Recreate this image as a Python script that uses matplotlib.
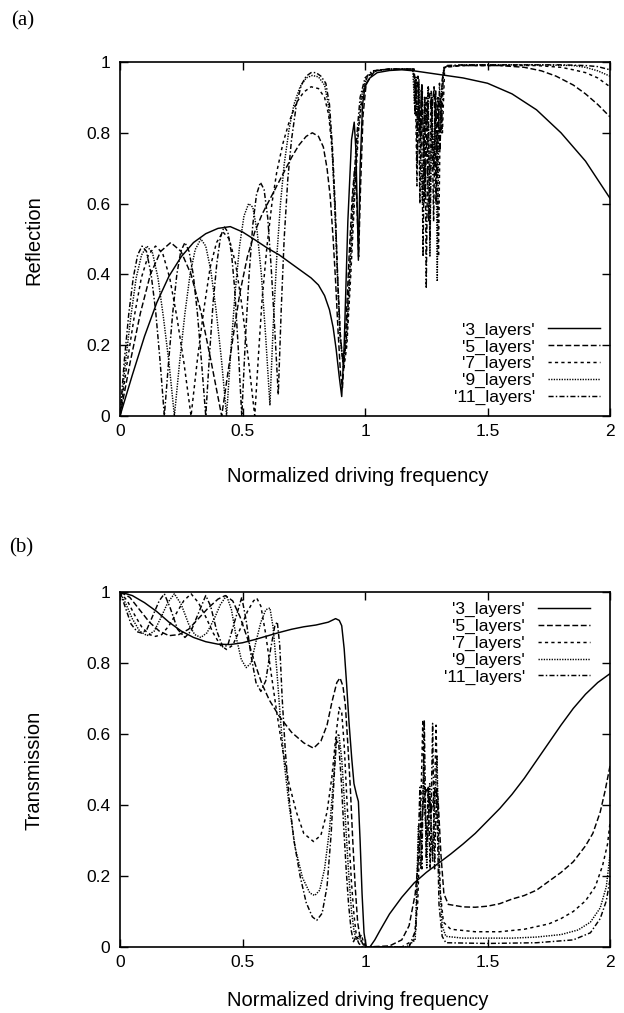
import matplotlib
matplotlib.use("Agg")
import matplotlib.pyplot as plt
from matplotlib.ticker import FixedLocator, FixedFormatter

# ---------------------------------------------------------------- data
labels = ["'3_layers'", "'5_layers'", "'7_layers'", "'9_layers'", "'11_layers'"]
x_ticks = [0, 0.5, 1, 1.5, 2]
x_tick_labels = ["0", "0.5", "1", "1.5", "2"]
y_ticks = [0, 0.2, 0.4, 0.6, 0.8, 1.0]
y_tick_labels = ["0", "0.2", "0.4", "0.6", "0.8", "1"]

# Reflection, 3 layers
r3_x = [0.0, 0.05, 0.1, 0.15, 0.2, 0.25, 0.3, 0.35, 0.4, 0.45, 0.5, 0.55, 0.6, 0.65,
        0.7, 0.75, 0.78, 0.81, 0.835, 0.855, 0.87, 0.882, 0.895, 0.905, 0.915, 0.93,
        0.945, 0.956, 0.963, 0.973, 0.98, 0.99, 1.0, 1.02, 1.05, 1.1, 1.15, 1.2,
        1.3, 1.4, 1.5, 1.6, 1.7, 1.8, 1.9, 2.0]
r3_y = [0.0, 0.115, 0.225, 0.32, 0.395, 0.45, 0.49, 0.515, 0.53, 0.535, 0.52, 0.498,
        0.475, 0.455, 0.43, 0.405, 0.39, 0.37, 0.34, 0.3, 0.25, 0.19, 0.11, 0.055,
        0.2, 0.55, 0.78, 0.83, 0.75, 0.44, 0.7, 0.88, 0.93, 0.955, 0.97, 0.976,
        0.978, 0.975, 0.965, 0.955, 0.94, 0.91, 0.865, 0.8, 0.72, 0.615]

# Reflection, 5 layers
r5_x = [0.0, 0.041, 0.083, 0.124, 0.166, 0.207, 0.249, 0.29, 0.332, 0.373, 0.415,
        0.44, 0.465, 0.49, 0.52, 0.55, 0.58, 0.61, 0.64, 0.67, 0.7, 0.73, 0.76,
        0.785, 0.81, 0.83, 0.845, 0.858, 0.87, 0.88, 0.89, 0.9, 0.908, 0.92, 0.935,
        0.948, 0.958, 0.966, 0.974, 0.982, 0.992, 1.005, 1.04, 1.1, 1.2, 1.208,
        1.216, 1.224, 1.232, 1.245, 1.258, 1.272, 1.282, 1.29, 1.298, 1.306, 1.315,
        1.325, 1.4, 1.55, 1.65, 1.72, 1.78, 1.85, 1.9, 1.95, 2.0]
r5_y = [0.0, 0.15, 0.29, 0.4, 0.465, 0.49, 0.465, 0.4, 0.29, 0.15, 0.0,
        0.12, 0.24, 0.35, 0.45, 0.52, 0.57, 0.61, 0.65, 0.69, 0.73, 0.765, 0.79,
        0.8, 0.79, 0.76, 0.7, 0.62, 0.5, 0.38, 0.24, 0.12, 0.08, 0.22, 0.45,
        0.62, 0.7, 0.62, 0.45, 0.65, 0.85, 0.94, 0.975, 0.98, 0.98, 0.9,
        0.96, 0.8, 0.94, 0.62, 0.93, 0.86, 0.93, 0.6, 0.9, 0.75, 0.95,
        0.988, 0.99, 0.99, 0.985, 0.975, 0.96, 0.935, 0.91, 0.88, 0.845]

# Reflection, 7 layers
r7_x = [0.0, 0.029, 0.058, 0.087, 0.116, 0.145, 0.174, 0.203, 0.232, 0.261, 0.29,
        0.316, 0.342, 0.368, 0.394, 0.42, 0.446, 0.472, 0.498, 0.524, 0.55,
        0.565, 0.58, 0.6, 0.62, 0.64, 0.665, 0.69, 0.72, 0.75, 0.78, 0.81, 0.835,
        0.852, 0.866, 0.878, 0.889, 0.9, 0.913, 0.926, 0.942, 0.958, 0.973, 0.99,
        1.01, 1.05, 1.1, 1.2, 1.206, 1.212, 1.218, 1.226, 1.234, 1.242, 1.25,
        1.26, 1.27, 1.28, 1.29, 1.3, 1.308, 1.316, 1.325, 1.4, 1.7, 1.8, 1.85,
        1.9, 1.95, 2.0]
r7_y = [0.0, 0.15, 0.28, 0.39, 0.455, 0.48, 0.46, 0.39, 0.28, 0.15, 0.0,
        0.16, 0.3, 0.42, 0.49, 0.52, 0.5, 0.43, 0.31, 0.16, 0.0,
        0.17, 0.33, 0.48, 0.6, 0.69, 0.77, 0.83, 0.885, 0.915, 0.93, 0.925, 0.9,
        0.85, 0.75, 0.58, 0.38, 0.22, 0.13, 0.2, 0.4, 0.62, 0.8, 0.91,
        0.96, 0.977, 0.98, 0.98, 0.92, 0.65, 0.94, 0.78, 0.92, 0.6, 0.9,
        0.55, 0.92, 0.7, 0.88, 0.45, 0.9, 0.8, 0.985, 0.99, 0.99, 0.985, 0.978,
        0.97, 0.955, 0.93]

# Reflection, 9 layers
r9_x = [0.0, 0.022, 0.044, 0.066, 0.088, 0.11, 0.133, 0.155, 0.177, 0.2, 0.222,
        0.243, 0.265, 0.286, 0.307, 0.33, 0.35, 0.371, 0.392, 0.414, 0.435,
        0.452, 0.47, 0.488, 0.506, 0.525, 0.542, 0.56, 0.577, 0.595, 0.612,
        0.625, 0.64, 0.655, 0.67, 0.69, 0.71, 0.735, 0.76, 0.785, 0.81, 0.835,
        0.85, 0.864, 0.876, 0.887, 0.898, 0.912, 0.925, 0.94, 0.955, 0.97, 0.985,
        1.005, 1.04, 1.1, 1.195, 1.202, 1.208, 1.214, 1.22, 1.228, 1.235, 1.243,
        1.25, 1.258, 1.265, 1.273, 1.28, 1.288, 1.295, 1.302, 1.31, 1.322, 1.4,
        1.7, 1.85, 1.9, 1.95, 2.0]
r9_y = [0.0, 0.15, 0.28, 0.39, 0.455, 0.48, 0.46, 0.39, 0.28, 0.15, 0.0,
        0.15, 0.29, 0.4, 0.47, 0.5, 0.48, 0.41, 0.3, 0.16, 0.0,
        0.18, 0.35, 0.48, 0.565, 0.6, 0.59, 0.52, 0.4, 0.22, 0.03,
        0.25, 0.45, 0.6, 0.71, 0.81, 0.88, 0.93, 0.955, 0.962, 0.958, 0.935,
        0.88, 0.78, 0.6, 0.4, 0.22, 0.14, 0.22, 0.42, 0.62, 0.79, 0.9,
        0.955, 0.975, 0.98, 0.98, 0.88, 0.96, 0.8, 0.95, 0.72, 0.6, 0.9,
        0.82, 0.93, 0.45, 0.9, 0.7, 0.92, 0.38, 0.88, 0.9, 0.985, 0.992,
        0.992, 0.99, 0.985, 0.975, 0.96]

# Reflection, 11 layers
r11_x = [0.0, 0.018, 0.036, 0.054, 0.072, 0.09, 0.108, 0.127, 0.145, 0.163, 0.181,
         0.198, 0.215, 0.232, 0.248, 0.265, 0.282, 0.299, 0.316, 0.333, 0.35,
         0.365, 0.38, 0.395, 0.41, 0.425, 0.44, 0.455, 0.468, 0.482, 0.497,
         0.512, 0.527, 0.542, 0.557, 0.573, 0.588, 0.603, 0.617, 0.632, 0.646,
         0.658, 0.67, 0.685, 0.7, 0.72, 0.74, 0.76, 0.78, 0.8, 0.82, 0.84, 0.855,
         0.867, 0.878, 0.888, 0.898, 0.91, 0.922, 0.935, 0.95, 0.965, 0.98, 1.0,
         1.03, 1.1, 1.195, 1.2, 1.204, 1.208, 1.213, 1.218, 1.224, 1.23, 1.237,
         1.244, 1.25, 1.258, 1.265, 1.272, 1.28, 1.288, 1.296, 1.304, 1.312,
         1.32, 1.33, 1.4, 1.6, 1.8, 1.9, 1.95, 2.0]
r11_y = [0.0, 0.16, 0.29, 0.39, 0.455, 0.48, 0.465, 0.4, 0.3, 0.16, 0.0,
         0.15, 0.29, 0.4, 0.465, 0.49, 0.465, 0.4, 0.29, 0.15, 0.0,
         0.17, 0.32, 0.43, 0.505, 0.535, 0.52, 0.46, 0.36, 0.2, 0.0,
         0.22, 0.4, 0.54, 0.625, 0.66, 0.64, 0.56, 0.42, 0.24, 0.06,
         0.3, 0.5, 0.67, 0.78, 0.88, 0.935, 0.96, 0.97, 0.97, 0.96, 0.94, 0.88,
         0.76, 0.6, 0.4, 0.24, 0.15, 0.2, 0.38, 0.6, 0.78, 0.9, 0.955,
         0.975, 0.98, 0.98, 0.96, 0.85, 0.95, 0.7, 0.94, 0.6, 0.92, 0.45,
         0.9, 0.36, 0.88, 0.5, 0.9, 0.55, 0.92, 0.68, 0.94, 0.8,
         0.97, 0.99, 0.992, 0.992, 0.992, 0.99, 0.987, 0.978]

# Transmission, 3 layers
t3_x = [0.0, 0.05, 0.1, 0.15, 0.2, 0.25, 0.3, 0.35, 0.4, 0.45, 0.5, 0.55, 0.6, 0.65,
        0.7, 0.75, 0.8, 0.85, 0.88, 0.895, 0.905, 0.915, 0.925, 0.935, 0.946,
        0.955, 0.965, 0.973, 0.98, 0.988, 0.996, 1.005, 1.02, 1.04, 1.06, 1.1,
        1.15, 1.2, 1.25, 1.3, 1.35, 1.4, 1.45, 1.5, 1.55, 1.6, 1.65, 1.7, 1.75,
        1.8, 1.85, 1.9, 1.95, 2.0]
t3_y = [1.0, 0.99, 0.97, 0.945, 0.915, 0.89, 0.872, 0.86, 0.853, 0.852, 0.857,
        0.866, 0.876, 0.886, 0.895, 0.902, 0.907, 0.915, 0.925, 0.92, 0.905,
        0.84, 0.74, 0.63, 0.53, 0.46, 0.43, 0.41, 0.3, 0.15, 0.04, 0.0, 0.0,
        0.02, 0.045, 0.093, 0.14, 0.18, 0.21, 0.236, 0.262, 0.29, 0.32,
        0.355, 0.39, 0.43, 0.475, 0.525, 0.575, 0.625, 0.672, 0.712, 0.745, 0.77]

# Transmission, 5 layers
t5_x = [0.0, 0.04, 0.08, 0.12, 0.16, 0.2, 0.24, 0.28, 0.32, 0.36, 0.4, 0.43, 0.46,
        0.49, 0.52, 0.55, 0.58, 0.61, 0.65, 0.7, 0.75, 0.79, 0.82, 0.845, 0.865,
        0.885, 0.898, 0.91, 0.92, 0.93, 0.94, 0.95, 0.96, 0.97, 0.98, 0.99, 1.0,
        1.1, 1.15, 1.18, 1.205, 1.225, 1.24, 1.255, 1.27, 1.285, 1.298, 1.31,
        1.322, 1.34, 1.4, 1.45, 1.5, 1.55, 1.6, 1.65, 1.7, 1.75, 1.8, 1.85, 1.9,
        1.93, 1.96, 1.98, 2.0]
t5_y = [1.0, 0.985, 0.95, 0.915, 0.89, 0.877, 0.88, 0.895, 0.925, 0.955, 0.98,
        0.99, 0.975, 0.93, 0.87, 0.8, 0.74, 0.695, 0.65, 0.605, 0.575, 0.56,
        0.58, 0.625, 0.69, 0.745, 0.758, 0.735, 0.68, 0.57, 0.45, 0.3, 0.17,
        0.07, 0.025, 0.01, 0.0, 0.003, 0.02, 0.06, 0.15, 0.3, 0.42, 0.45, 0.38,
        0.44, 0.42, 0.26, 0.15, 0.12, 0.113, 0.112, 0.115, 0.122, 0.135, 0.145,
        0.16, 0.185, 0.21, 0.24, 0.285, 0.32, 0.38, 0.44, 0.51]

# Transmission, 7 layers
t7_x = [0.0, 0.03, 0.06, 0.09, 0.12, 0.145, 0.17, 0.2, 0.23, 0.26, 0.29, 0.32, 0.35,
        0.38, 0.41, 0.435, 0.46, 0.49, 0.52, 0.545, 0.558, 0.575, 0.595, 0.615,
        0.64, 0.665, 0.69, 0.72, 0.75, 0.79, 0.82, 0.845, 0.865, 0.882, 0.895,
        0.905, 0.915, 0.925, 0.935, 0.945, 0.955, 0.965, 0.975, 0.985, 0.995,
        1.01, 1.15, 1.2, 1.215, 1.228, 1.236, 1.244, 1.255, 1.265, 1.275, 1.283,
        1.29, 1.298, 1.308, 1.32, 1.35, 1.45, 1.55, 1.65, 1.75, 1.8, 1.85, 1.9,
        1.94, 1.97, 1.99, 2.0]
t7_y = [1.0, 0.975, 0.935, 0.9, 0.88, 0.875, 0.88, 0.905, 0.94, 0.975, 0.995,
        0.97, 0.93, 0.885, 0.85, 0.838, 0.85, 0.895, 0.945, 0.975, 0.983, 0.96,
        0.88, 0.78, 0.66, 0.55, 0.46, 0.38, 0.32, 0.297, 0.315, 0.38, 0.48, 0.6,
        0.675, 0.66, 0.57, 0.43, 0.3, 0.18, 0.09, 0.03, 0.02, 0.035, 0.01,
        0.0, 0.0, 0.02, 0.12, 0.4, 0.64, 0.38, 0.3, 0.42, 0.26, 0.4,
        0.625, 0.35, 0.15, 0.07, 0.05, 0.043, 0.043, 0.05, 0.065, 0.08, 0.1, 0.13,
        0.17, 0.23, 0.29, 0.35]

# Transmission, 9 layers
t9_x = [0.0, 0.025, 0.05, 0.08, 0.11, 0.14, 0.165, 0.195, 0.222, 0.25, 0.28, 0.305,
        0.33, 0.355, 0.385, 0.41, 0.435, 0.455, 0.475, 0.495, 0.515, 0.535, 0.555,
        0.575, 0.595, 0.612, 0.625, 0.64, 0.655, 0.67, 0.69, 0.715, 0.745, 0.775,
        0.795, 0.815, 0.835, 0.855, 0.87, 0.883, 0.893, 0.905, 0.915, 0.925,
        0.935, 0.945, 0.955, 0.965, 0.975, 0.985, 1.0, 1.17, 1.205, 1.218, 1.228,
        1.24, 1.252, 1.264, 1.276, 1.286, 1.294, 1.303, 1.315, 1.33, 1.4, 1.6,
        1.7, 1.8, 1.87, 1.92, 1.96, 1.985, 2.0]
t9_y = [1.0, 0.965, 0.925, 0.89, 0.877, 0.89, 0.925, 0.97, 0.995, 0.965, 0.91,
        0.88, 0.872, 0.885, 0.925, 0.965, 0.99, 0.95, 0.87, 0.81, 0.787, 0.8,
        0.86, 0.915, 0.95, 0.955, 0.9, 0.78, 0.64, 0.52, 0.4, 0.28, 0.195, 0.152,
        0.145, 0.16, 0.22, 0.33, 0.46, 0.59, 0.6, 0.53, 0.42, 0.3,
        0.19, 0.1, 0.045, 0.02, 0.03, 0.015, 0.0, 0.0, 0.02, 0.34, 0.22,
        0.52, 0.22, 0.46, 0.24, 0.42, 0.54, 0.2, 0.06, 0.03, 0.025, 0.025,
        0.028, 0.035, 0.048, 0.07, 0.11, 0.17, 0.26]

# Transmission, 11 layers
t11_x = [0.0, 0.02, 0.045, 0.07, 0.09, 0.11, 0.135, 0.16, 0.181, 0.205, 0.235, 0.265,
         0.29, 0.32, 0.35, 0.37, 0.395, 0.42, 0.44, 0.465, 0.497, 0.515, 0.535,
         0.555, 0.575, 0.595, 0.615, 0.632, 0.642, 0.652, 0.662, 0.675, 0.69, 0.71,
         0.735, 0.76, 0.785, 0.803, 0.825, 0.845, 0.862, 0.874, 0.884, 0.893,
         0.903, 0.913, 0.923, 0.933, 0.943, 0.953, 0.963, 0.975, 0.99, 1.18,
         1.208, 1.216, 1.224, 1.232, 1.242, 1.25, 1.258, 1.266, 1.276, 1.284,
         1.292, 1.302, 1.315, 1.33, 1.5, 1.7, 1.85, 1.92, 1.96, 1.985, 2.0]
t11_y = [1.0, 0.96, 0.91, 0.888, 0.884, 0.895, 0.935, 0.975, 0.995, 0.955, 0.895,
         0.872, 0.89, 0.94, 0.99, 0.96, 0.89, 0.845, 0.85, 0.91, 0.985, 0.92, 0.82,
         0.745, 0.72, 0.75, 0.84, 0.905, 0.916, 0.85, 0.7, 0.55, 0.42, 0.3,
         0.2, 0.125, 0.085, 0.075, 0.095, 0.17, 0.32, 0.48, 0.585, 0.57,
         0.47, 0.34, 0.22, 0.12, 0.05, 0.015, 0.03, 0.01, 0.0, 0.0,
         0.05, 0.25, 0.45, 0.22, 0.64, 0.25, 0.45, 0.22, 0.63, 0.22,
         0.45, 0.12, 0.03, 0.012, 0.01, 0.012, 0.02, 0.04, 0.08, 0.13, 0.19]

reflection = [(r3_x, r3_y), (r5_x, r5_y), (r7_x, r7_y), (r9_x, r9_y), (r11_x, r11_y)]
transmission = [(t3_x, t3_y), (t5_x, t5_y), (t7_x, t7_y), (t9_x, t9_y), (t11_x, t11_y)]

# ---------------------------------------------------------------- style
plt.rcParams["font.family"] = ["Liberation Sans", "DejaVu Sans"]
line_styles = ["-", (0, (4.0, 1.8)), (0, (2.2, 2.2)), (0, (0.9, 0.9)), (0, (3.5, 1.5, 1.0, 1.5))]
LW = 1.05

W, H = 624, 1013
fig = plt.figure(figsize=(W / 100, H / 100), dpi=100)


def make_axes(top_px, bottom_px):
    left, right = 120, 610
    return fig.add_axes([left / W, (H - bottom_px) / H,
                         (right - left) / W, (bottom_px - top_px) / H])


def style_axes(ax):
    ax.set_xlim(0, 2)
    ax.set_ylim(0, 1)
    ax.xaxis.set_major_locator(FixedLocator(x_ticks))
    ax.xaxis.set_major_formatter(FixedFormatter(x_tick_labels))
    ax.yaxis.set_major_locator(FixedLocator(y_ticks))
    ax.yaxis.set_major_formatter(FixedFormatter(y_tick_labels))
    ax.tick_params(direction="in", length=6, width=1.0, top=True, right=True,
                   labelsize=12.5, colors="black")
    ax.tick_params(axis="x", pad=6)
    ax.tick_params(axis="y", pad=7)
    for s in ax.spines.values():
        s.set_linewidth(1.2)


def draw_panel(ax, series, legend_loc, legend_anchor):
    for (xs, ys), ls, lab in zip(series, line_styles, labels):
        ax.plot(xs, ys, color="black", lw=LW, linestyle=ls, label=lab)
    style_axes(ax)
    ax.legend(loc=legend_loc, bbox_to_anchor=legend_anchor, frameon=False,
              markerfirst=False, fontsize=12.5, handlelength=3.0,
              handletextpad=0.75, labelspacing=0.09, borderpad=0.2,
              borderaxespad=0.0)


ax_r = make_axes(62, 416)
draw_panel(ax_r, reflection, "lower right", (0.987, 0.021))

ax_t = make_axes(592, 947)
draw_panel(ax_t, transmission, "upper right", (0.966, 0.982))

# Panel tags and axis titles
fig.text(11 / W, 1 - 21 / H, "(a)", family=["Liberation Serif", "DejaVu Serif"],
         fontsize=15, va="center", ha="left")
fig.text(9 / W, 1 - 548 / H, "(b)", family=["Liberation Serif", "DejaVu Serif"],
         fontsize=15, va="center", ha="left")
fig.text(34 / W, 1 - 240 / H, "Reflection", rotation=90, fontsize=14.5,
         ha="center", va="center")
fig.text(34 / W, 1 - 770 / H, "Transmission", rotation=90, fontsize=14.5,
         ha="center", va="center")
fig.text(358 / W, 1 - 476 / H, "Normalized driving frequency", fontsize=14.5,
         ha="center", va="center")
fig.text(358 / W, 1 - 1000 / H, "Normalized driving frequency", fontsize=14.5,
         ha="center", va="center")

fig.savefig("out.png", dpi=100, facecolor="white")
